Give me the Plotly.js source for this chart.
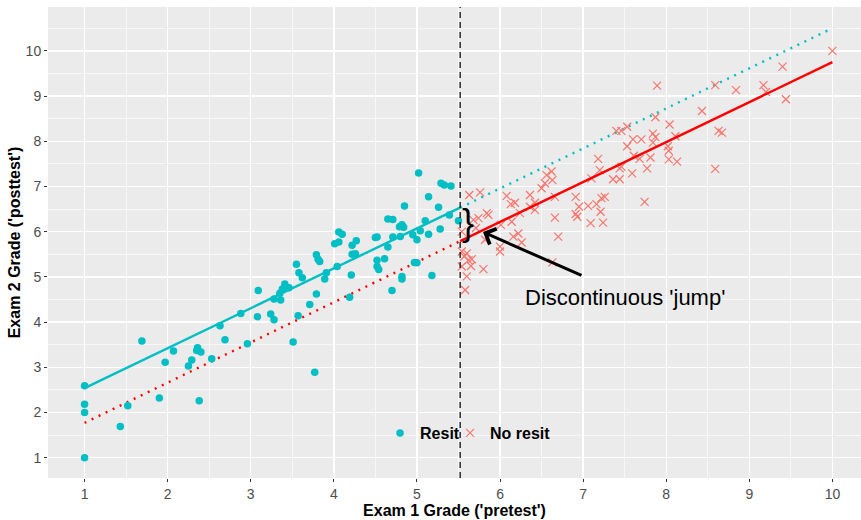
<!DOCTYPE html>
<html>
<head>
<meta charset="utf-8">
<script src="https://cdn.plot.ly/plotly-3.0.1.min.js"></script>
<style>html,body{margin:0;padding:0;background:#fff;}#chart{width:861px;height:520px;}</style>
</head>
<body>
<div id="chart"></div>
<script>
// ---- data ----
const cutoff = 5.52;

const resitX = [1.00,1.00,1.00,1.00,1.43,1.52,1.69,1.90,1.97,2.07,2.25,2.29,2.35,2.36,2.40,2.38,2.53,2.63,2.69,2.88,2.96,3.08,3.09,3.24,3.28,3.28,3.35,3.36,3.38,3.41,3.46,3.51,3.55,3.57,3.58,3.62,3.71,3.77,3.79,3.79,3.81,3.83,3.89,3.91,4.01,4.04,4.06,4.06,4.10,4.19,4.21,4.22,4.22,4.26,4.27,4.50,4.52,4.52,4.52,4.54,4.61,4.65,4.65,4.71,4.70,4.71,4.79,4.80,4.82,4.84,4.82,4.82,4.85,4.95,4.97,5.00,5.00,5.02,5.04,5.10,5.14,5.14,5.18,5.26,5.28,5.29,5.33,5.39,5.41,5.50];
const resitY = [2.59,2.18,2.00,1.00,1.69,2.15,3.58,2.32,3.11,3.36,3.03,3.16,3.37,3.43,3.34,2.26,3.19,3.92,3.61,4.19,3.52,4.12,4.70,4.18,4.05,4.51,4.64,4.49,4.73,4.84,4.76,3.56,5.28,4.14,5.09,4.98,4.39,2.89,4.62,5.49,5.39,5.34,4.95,5.09,5.73,5.23,5.77,5.99,5.94,4.55,5.04,5.70,5.50,5.51,5.80,5.87,5.88,5.37,5.23,5.16,5.40,5.66,6.28,6.27,4.70,5.88,6.11,5.89,6.15,6.10,5.01,4.95,6.57,5.93,5.32,5.31,5.82,7.30,6.02,6.24,6.77,5.94,5.03,6.54,6.06,7.07,7.03,6.37,7.01,6.24];

const noResitX = [5.63,5.76,5.54,5.54,5.60,5.57,5.62,5.66,5.54,5.65,5.60,5.58,5.80,5.68,5.74,5.71,5.84,5.86,5.82,6.08,6.13,6.18,6.14,6.01,6.16,6.22,6.26,6.00,6.00,6.24,6.36,6.42,6.42,6.36,6.50,6.54,6.56,6.62,6.63,6.66,6.66,6.70,6.63,6.91,6.95,6.91,6.93,7.06,7.09,7.16,7.22,7.26,7.21,7.24,7.18,7.20,7.10,7.36,7.44,7.44,7.46,7.40,7.46,7.53,7.53,7.59,7.60,7.61,7.68,7.70,7.74,7.77,7.81,7.84,7.84,7.87,7.87,7.89,8.02,8.03,8.04,8.03,8.11,8.13,8.43,8.59,8.59,8.63,8.67,8.84,9.17,9.20,9.40,9.44,10.00];
const noResitY = [6.81,6.87,6.00,5.56,5.52,5.45,5.37,5.39,5.23,5.24,5.01,4.71,5.17,6.26,6.30,6.08,6.41,6.37,5.82,6.79,6.61,6.64,6.22,6.15,5.89,5.96,5.76,5.67,5.56,6.41,6.81,6.64,6.48,6.55,6.96,7.07,7.25,7.33,7.14,6.77,6.31,5.89,5.32,6.77,6.55,6.39,6.33,6.57,6.19,6.61,6.74,6.77,6.44,6.20,7.61,7.36,7.18,7.16,7.16,7.40,7.44,8.23,8.23,8.32,7.89,7.29,8.04,7.68,7.61,8.04,6.66,7.40,7.64,8.17,7.97,8.09,8.53,9.23,7.89,7.79,8.37,7.60,8.11,7.55,8.67,9.24,7.39,8.23,8.19,9.13,9.24,9.09,9.65,8.93,10.00];

// fitted regression lines (endpoints)
const resitFitX = [1, cutoff];
const resitFitY = [2.54, 6.53];
const resitProjX = [cutoff, 10];
const resitProjY = [6.53, 10.50];
const noResitProjX = [1, cutoff];
const noResitProjY = [1.77, 5.79];
const noResitFitX = [cutoff, 10];
const noResitFitY = [5.79, 9.75];

const xTicks = [1,2,3,4,5,6,7,8,9,10];
const yTicks = [1,2,3,4,5,6,7,8,9,10];

const CYAN = '#00BFC4';
const SALMON = '#F8766D';
const RED = '#FF0000';
const FONT = 'Liberation Sans, Arial, sans-serif';

const traces = [
  {x: resitProjX, y: resitProjY, mode:'lines', showlegend:false, hoverinfo:'skip',
   line:{color:CYAN, width:2.4, dash:'2px,5.8px'}},
  {x: noResitProjX, y: noResitProjY, mode:'lines', showlegend:false, hoverinfo:'skip',
   line:{color:RED, width:2.4, dash:'2px,5.8px'}},
  {x: resitX, y: resitY, mode:'markers', name:'Resit', type:'scatter', legend:'legend',
   marker:{symbol:'circle', size:7.5, color:CYAN}},
  {x: noResitX, y: noResitY, mode:'markers', name:'No resit', type:'scatter', legend:'legend2',
   marker:{symbol:'x-thin', size:8, color:SALMON, line:{color:SALMON, width:1.2}}},
  {x: resitFitX, y: resitFitY, mode:'lines', showlegend:false, hoverinfo:'skip',
   line:{color:CYAN, width:2.4}},
  {x: noResitFitX, y: noResitFitY, mode:'lines', showlegend:false, hoverinfo:'skip',
   line:{color:RED, width:2.4}}
];

const axisCommon = {
  showgrid:true, gridcolor:'#FFFFFF', gridwidth:1.3,
  zeroline:false, showline:false,
  ticks:'outside', ticklen:3, tickwidth:1, tickcolor:'#333333',
  tickfont:{family:FONT, size:14, color:'#4D4D4D'},
  minor:{dtick:0.5, showgrid:true, gridcolor:'#FFFFFF', gridwidth:0.6},
  tickmode:'array'
};

const legendFont = {family:FONT, size:16, color:'#000000', weight:'bold'};

const layout = {
  width:861, height:520,
  margin:{l:48, r:0, t:7, b:42},
  paper_bgcolor:'#FFFFFF', plot_bgcolor:'#EBEBEB',
  font:{family:FONT},
  xaxis: Object.assign({}, axisCommon, {
    range:[0.56, 10.344], tickvals:xTicks, ticktext:xTicks.map(String),
    title:{text:"Exam 1 Grade ('pretest')", standoff:3,
           font:{family:FONT, size:16, color:'#000000', weight:'bold'}}
  }),
  yaxis: Object.assign({}, axisCommon, {
    range:[0.55, 10.97], tickvals:yTicks, ticktext:yTicks.map(String),
    title:{text:"Exam 2 Grade ('posttest')", standoff:1,
           font:{family:FONT, size:16, color:'#000000', weight:'bold'}}
  }),
  legend:{orientation:'h', x:0.4084, y:0.0955, xanchor:'left', yanchor:'middle',
          bgcolor:'rgba(0,0,0,0)', font:legendFont},
  legend2:{orientation:'h', x:0.4945, y:0.0955, xanchor:'left', yanchor:'middle',
          bgcolor:'rgba(0,0,0,0)', font:legendFont},
  shapes:[
    {type:'line', xref:'x', yref:'paper', x0:cutoff, x1:cutoff, y0:0, y1:1,
     line:{color:'#000000', width:1.2, dash:'6px,4px'}}
  ],
  annotations:[
    {x:5.615, y:6.21, xref:'x', yref:'y', text:'}', showarrow:false,
     font:{family:FONT, size:36, color:'#000000'}, xanchor:'center', yanchor:'middle'},
    {x:5.795, y:5.99, xref:'x', yref:'y', text:'', showarrow:true,
     ax:100, ay:44, arrowhead:4, arrowsize:1.1, arrowwidth:3, arrowcolor:'#000000', standoff:0},
    {x:7.5, y:4.535, xref:'x', yref:'y', text:"Discontinuous 'jump'", showarrow:false,
     font:{family:FONT, size:22, color:'#000000'}, xanchor:'center', yanchor:'middle'}
  ],
  showlegend:true
};

Plotly.newPlot('chart', traces, layout, {displayModeBar:false, staticPlot:true});
</script>
</body>
</html>
